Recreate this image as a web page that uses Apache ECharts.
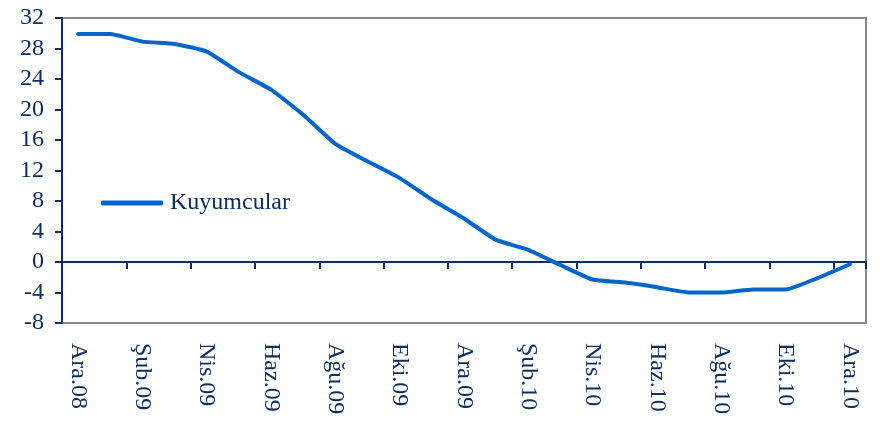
<!DOCTYPE html>
<html>
<head>
<meta charset="utf-8">
<script src="https://cdn.jsdelivr.net/npm/echarts@6/dist/echarts.min.js"></script>
<style>
html,body{margin:0;padding:0;background:#fff;}
#chart{width:880px;height:433px;}
</style>
</head>
<body>
<div id="chart"></div>
<script>
const categories = ['Ara.08','Oca.09','Şub.09','Mar.09','Nis.09','May.09','Haz.09','Tem.09','Ağu.09','Eyl.09','Eki.09','Kas.09','Ara.09','Oca.10','Şub.10','Mar.10','Nis.10','May.10','Haz.10','Tem.10','Ağu.10','Eyl.10','Eki.10','Kas.10','Ara.10'];
const kuyumcular = [29.9, 29.9, 28.9, 28.6, 27.6, 24.9, 22.6, 19.3, 15.5, 13.2, 11.0, 8.2, 5.7, 2.9, 1.6, -0.4, -2.3, -2.7, -3.3, -4.0, -4.0, -3.6, -3.6, -2.1, -0.3];
const seriesName = 'Kuyumcular';

const navy = '#0d2e62';
const font = '"Liberation Serif","Times New Roman",serif';
const chart = echarts.init(document.getElementById('chart'));
chart.setOption({
  animation: false,
  backgroundColor: '#fff',
  grid: {left: 62, right: 14, top: 18, bottom: 110, show: true, borderColor: '#8a8a8a', borderWidth: 2, backgroundColor: 'transparent'},
  legend: {
    left: 96, top: 186, icon: 'roundRect', itemWidth: 62, itemHeight: 5,
    data: [seriesName],
    textStyle: {fontFamily: font, fontSize: 24, color: navy, padding: [0,0,0,2]}
  },
  xAxis: [
    {
      type: 'category', data: categories, position: 'bottom',
      axisLine: {show: false, onZero: false},
      axisTick: {show: false},
      axisLabel: {interval: 1, rotate: -90, margin: 20, fontFamily: font, fontSize: 24, color: navy}
    },
    {
      type: 'category', data: categories, position: 'bottom',
      axisLine: {show: true, onZero: true, lineStyle: {color: navy, width: 2}},
      axisTick: {show: true, interval: 1, length: 7, lineStyle: {color: navy, width: 2}},
      axisLabel: {show: false}
    }
  ],
  yAxis: {
    type: 'value', min: -8, max: 32, interval: 4,
    axisLine: {show: true, lineStyle: {color: navy, width: 2}},
    axisTick: {show: true, length: 7, lineStyle: {color: navy, width: 2}},
    splitLine: {show: false},
    axisLabel: {margin: 18, fontFamily: font, fontSize: 24, color: navy}
  },
  series: [{
    name: seriesName, type: 'line', data: kuyumcular, xAxisIndex: 0,
    symbol: 'none', smooth: 0.15,
    lineStyle: {color: '#0066cc', width: 4, cap: 'round', join: 'round'},
    itemStyle: {color: '#0066cc'}
  }]
});
</script>
</body>
</html>
